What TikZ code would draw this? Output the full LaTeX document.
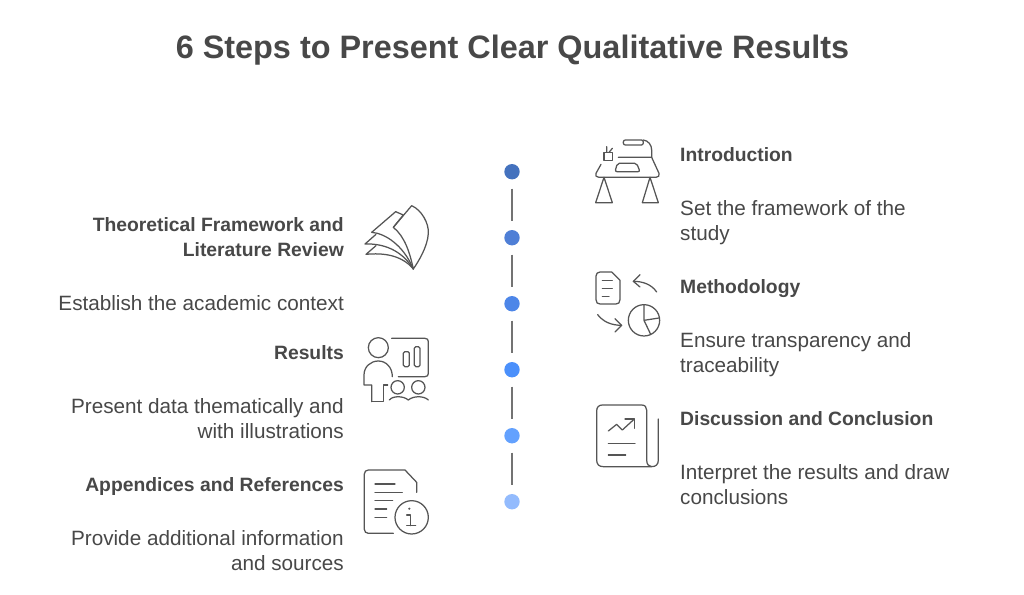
\documentclass[tikz,border=0pt]{standalone}
\usepackage{fontspec}
\setmainfont{Liberation Sans}
\definecolor{ink}{HTML}{484848}
\definecolor{icon}{HTML}{555555}
\tikzset{
  titletext/.style={font=\fontsize{32.4}{40}\selectfont\bfseries,text=ink,inner sep=0pt},
  headl/.style={font=\fontsize{19.3}{25}\selectfont\bfseries,text=ink,inner sep=0pt,anchor=base east,align=right},
  headr/.style={font=\fontsize{19.3}{25}\selectfont\bfseries,text=ink,inner sep=0pt,anchor=base west,align=left},
  bodyl/.style={font=\fontsize{20.7}{25}\selectfont,text=ink,inner sep=0pt,anchor=base east,align=right},
  bodyr/.style={font=\fontsize{20.7}{25}\selectfont,text=ink,inner sep=0pt,anchor=base west,align=left},
  dot/.style={circle,minimum size=15.4pt,inner sep=0pt,draw=none},
  link/.style={draw=black!55,line width=1.7pt,shorten >=9pt,shorten <=9pt},
  ic/.style={draw=icon,line width=1.25pt,line join=round,line cap=round,fill=none},
  zone/.style={x=0.3333pt,y=-0.3333pt}
}
\begin{document}
\begin{tikzpicture}[x=1pt,y=-1pt]
\useasboundingbox (0,0) rectangle (1024,594);
\fill[white] (0,0) rectangle (1024,594);
\node[titletext] (title) at (512.5,50) {6 Steps to Present Clear Qualitative Results};

% timeline
\node[dot,fill={rgb,255:red,68;green,114;blue,190}] (d1) at (512,171.7) {};
\node[dot,fill={rgb,255:red,79;green,127;blue,214}] (d2) at (512,237.7) {};
\node[dot,fill={rgb,255:red,77;green,134;blue,232}] (d3) at (512,303.7) {};
\node[dot,fill={rgb,255:red,75;green,144;blue,251}] (d4) at (512,369.7) {};
\node[dot,fill={rgb,255:red,99;green,161;blue,254}] (d5) at (512,435.7) {};
\node[dot,fill={rgb,255:red,147;green,187;blue,253}] (d6) at (512,501.7) {};
\draw[link] (d1) -- (d2);
\draw[link] (d2) -- (d3);
\draw[link] (d3) -- (d4);
\draw[link] (d4) -- (d5);
\draw[link] (d5) -- (d6);

% left texts
\node[headl] (h2) at (344,256) {Theoretical Framework and\\Literature Review};
\node[bodyl] (b2) at (344,310) {Establish the academic context};
\node[headl] (h4) at (344,359) {Results};
\node[bodyl] (b4) at (344,438) {Present data thematically and\\with illustrations};
\node[headl] (h6) at (344,491) {Appendices and References};
\node[bodyl] (b6) at (344,570) {Provide additional information\\and sources};
% right texts
\node[headr] (h1) at (680,161) {Introduction};
\node[bodyr] (b1) at (680,240) {Set the framework of the\\study};
\node[headr] (h3) at (680,293) {Methodology};
\node[bodyr] (b3) at (680,372) {Ensure transparency and\\traceability};
\node[headr] (h5) at (680,425.5) {Discussion and Conclusion};
\node[bodyr] (b5) at (680,504) {Interpret the results and draw\\conclusions};

% book icon
\begin{scope}[shift={(350,190)},zone]
\draw[ic] (130,112) -- (185,47) .. controls (215,60) and (237,100) .. (235,130) .. controls (233,170) and (205,215) .. (190,237) .. controls (180,190) and (165,140) .. cycle;
\draw[ic] (130,112) -- (160,75) -- (137,65) -- (65,127) .. controls (105,130) and (160,165) .. (190,237);
\draw[ic] (78,133) -- (45,162) .. controls (100,160) and (155,180) .. (190,237);
\draw[ic] (78,167) -- (48,193) .. controls (100,188) and (155,195) .. (190,237);
\end{scope}

% results icon
\begin{scope}[shift={(350,325)},zone]
\draw[ic] (85,68) circle[radius=30];
\draw[ic] (65,230) -- (65,180) -- (42,180) -- (42,150) .. controls (42,125) and (62,108) .. (85,108) .. controls (108,108) and (127,127) .. (127,155);
\draw[ic] (65,230) -- (100,230) -- (100,180) -- (113,180);
\draw[ic] (125,40) -- (225,40) .. controls (232,40) and (235,44) .. (235,50) -- (235,145) .. controls (235,151) and (232,155) .. (225,155) -- (145,155);
\draw[ic,rounded corners=1.5pt] (160,80) rectangle (178,125);
\draw[ic,rounded corners=1.5pt] (193,65) rectangle (210,125);
\draw[ic] (143,187) circle[radius=20];
\draw[ic] (205,187) circle[radius=20];
\draw[ic] (118,225) .. controls (128,212) and (160,212) .. (175,225) .. controls (190,212) and (222,212) .. (235,225);
\end{scope}

% info icon
\begin{scope}[shift={(350,460)},zone]
\draw[ic] (130,220) -- (55,220) .. controls (48,220) and (43,215) .. (43,208) -- (43,42) .. controls (43,35) and (48,30) .. (55,30) -- (165,30) -- (200,67) -- (200,97);
\draw[ic] (75,72) -- (135,72) (75,97) -- (157,97) (75,122) -- (128,122) (75,147) -- (110,147) (75,172) -- (110,172);
\draw[ic] (185,172) circle[radius=50];
\fill[icon] (178,146) circle[radius=3.5];
\draw[ic] (170,165) -- (182,165) -- (182,197) (170,197) -- (197,197);
\end{scope}

% desk icon
\begin{scope}[shift={(585,130)},zone]
\draw[ic,rounded corners=2pt] (115,30) rectangle (175,45);
\draw[ic] (175,30) .. controls (190,32) and (200,45) .. (200,60) -- (200,82) -- (100,82);
\draw[ic] (200,82) -- (222,130) .. controls (224,137) and (221,142) .. (213,142) -- (42,142) .. controls (34,142) and (30,137) .. (33,130) -- (48,103);
\draw[ic] (57,67) rectangle (82,92);
\draw[ic] (65,50) -- (65,67) (82,55) -- (72,67);
\draw[ic,rounded corners=2pt] (97,100) -- (155,100) -- (165,125) -- (90,125) -- cycle;
\draw[ic] (32,218) -- (57,142) -- (82,218) (32,218) -- (82,218);
\draw[ic] (172,218) -- (195,142) -- (220,218) (172,218) -- (220,218);
\end{scope}

% methodology icon
\begin{scope}[shift={(585,262)},zone]
\draw[ic] (45,30) -- (80,30) -- (105,55) -- (105,113) .. controls (105,122) and (100,126) .. (93,126) -- (45,126) .. controls (38,126) and (33,122) .. (33,113) -- (33,42) .. controls (33,35) and (38,30) .. cycle;
\draw[ic] (52,55) -- (82,55) (52,80) -- (82,80) (52,103) -- (72,103);
\draw[ic] (215,90) .. controls (200,68) and (175,58) .. (145,58);
\draw[ic] (165,38) -- (145,58) -- (165,75);
\draw[ic] (38,158) .. controls (55,180) and (80,190) .. (110,190);
\draw[ic] (90,170) -- (110,190) -- (90,210);
\draw[ic] (177,175) circle[radius=47];
\draw[ic] (177,128) -- (177,175) -- (222,168) (177,175) -- (197,217);
\end{scope}

% discussion icon
\begin{scope}[shift={(585,395)},zone]
\draw[ic] (200,215) -- (55,215) .. controls (42,215) and (35,208) .. (35,195) -- (35,48) .. controls (35,36) and (42,30) .. (52,30) -- (170,30) .. controls (180,30) and (185,36) .. (185,45) -- (185,195) .. controls (185,208) and (192,215) .. (200,215) .. controls (213,215) and (220,208) .. (220,195) -- (220,72);
\draw[ic] (70,108) -- (95,88) -- (112,105) -- (148,72);
\draw[ic] (120,72) -- (148,72) -- (148,100);
\draw[ic] (70,146) -- (150,146) (70,180) -- (122,180);
\end{scope}
\end{tikzpicture}
\end{document}
